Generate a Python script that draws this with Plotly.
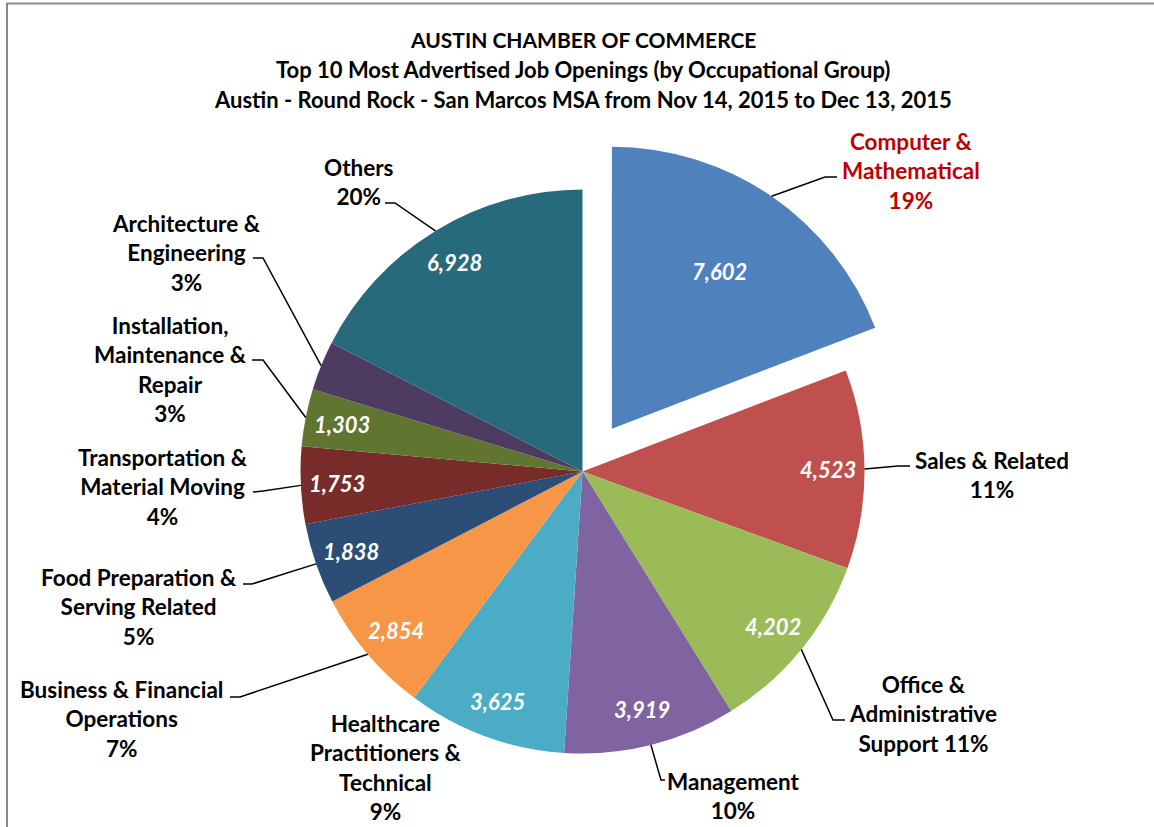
import math
import plotly.graph_objects as go

# ---------------- data ----------------
categories = [
    "Computer & Mathematical", "Sales & Related", "Office & Administrative Support",
    "Management", "Healthcare Practitioners & Technical", "Business & Financial Operations",
    "Food Preparation & Serving Related", "Transportation & Material Moving",
    "Installation, Maintenance & Repair", "Architecture & Engineering", "Others",
]
values = [7602, 4523, 4202, 3919, 3625, 2854, 1838, 1753, 1303, 1120, 6928]
pct_labels = ["19%", "11%", "11%", "10%", "9%", "7%", "5%", "4%", "3%", "3%", "20%"]
show_value = [True, True, True, True, True, True, True, True, True, False, True]
colors = ["#4F81BD", "#C0504D", "#9BBB59", "#8064A2", "#4BACC6", "#F79646",
          "#2C4D75", "#772C2A", "#5F7530", "#4D3B62", "#276A7C"]
title_lines = [
    "AUSTIN CHAMBER OF COMMERCE",
    "Top 10 Most Advertised Job Openings (by Occupational Group)",
    "Austin - Round Rock - San Marcos MSA from Nov 14, 2015 to Dec 13, 2015",
]
# label text with line breaks as displayed
label_texts = [
    "Computer &<br>Mathematical<br>19%",
    "Sales & Related<br>11%",
    "Office &<br>Administrative<br>Support 11%",
    "Management<br>10%",
    "Healthcare<br>Practitioners &<br>Technical<br>9%",
    "Business & Financial<br>Operations<br>7%",
    "Food Preparation &<br>Serving Related<br>5%",
    "Transportation &<br>Material Moving<br>4%",
    "Installation,<br>Maintenance &<br>Repair<br>3%",
    "Architecture &<br>Engineering<br>3%",
    "Others<br>20%",
]

# ---------------- layout geometry (pixels) ----------------
W, H = 1154, 827
CX, CY = 582.5, 471.5
R = 282.0
PULL = 0.184
pulls = [PULL if i == 0 else 0 for i in range(len(values))]

label_pos = [(911, 171), (992, 475), (923, 714), (733, 796), (386, 767), (121, 719),
             (139, 607), (163, 487), (170, 369), (186, 253), (359, 182)]
# leader: (elbow, end) ; None for no leader
leaders = [((825, 177), (837, 177)), ((898, 466), (910, 466)), ((833, 720), (845, 720)),
           ((661, 780), (665, 780)), None, ((240, 697), (230, 697)),
           ((252, 584), (243, 584)), ((263, 491), (253, 492)), ((263, 360), (252, 360)),
           ((263, 258), (253, 258)), ((395, 203), (385, 203))]
label_colors = ["#C00000"] + ["#000000"] * 10


def px(x):
    return x / W


def py(y):
    return 1 - y / H


total = sum(values)
hy = R * (1 + PULL)
hx = 380
fig = go.Figure(go.Pie(
    labels=categories, values=values, sort=False, direction="clockwise", rotation=0,
    pull=pulls, marker=dict(colors=colors, line=dict(width=0)),
    textinfo="none", hoverinfo="label+value+percent", showlegend=False,
    domain=dict(x=[px(CX - hx), px(CX + hx)], y=[py(CY + hy), py(CY - hy)]),
))

annotations = []
shapes = []
cum = 0
for i, v in enumerate(values):
    mid = math.radians((cum + v / 2) / total * 360)
    cum += v
    ox = R * pulls[i] * math.sin(mid)
    oy = -R * pulls[i] * math.cos(mid)
    ccx, ccy = CX + ox, CY + oy
    frac = 0.675 if pulls[i] > 0 else 0.87
    if show_value[i]:
        vx = ccx + R * frac * math.sin(mid)
        vy = ccy - R * frac * math.cos(mid)
        annotations.append(dict(
            x=px(vx), y=py(vy), xref="paper", yref="paper", showarrow=False,
            text=f"{v:,}", font=dict(family="Lato", size=22, color="white",
                                     weight="bold", style="italic"),
            xanchor="center", yanchor="middle"))
    lx, ly = label_pos[i]
    annotations.append(dict(
        x=px(lx), y=py(ly), xref="paper", yref="paper", showarrow=False,
        text=label_texts[i], align="center",
        font=dict(family="Lato", size=22.5, color=label_colors[i], weight="bold"),
        xanchor="center", yanchor="middle"))
    if leaders[i] is not None:
        ex = ccx + R * math.sin(mid)
        ey = ccy - R * math.cos(mid)
        (bx, by), (tx, ty) = leaders[i]
        path = (f"M {px(ex)} {py(ey)} L {px(bx)} {py(by)} L {px(tx)} {py(ty)}")
        shapes.append(dict(type="path", xref="paper", yref="paper", path=path,
                           line=dict(color="black", width=1.5)))

for k, (t, y, s) in enumerate(zip(title_lines, [40, 70, 99], [21, 22, 22])):
    annotations.append(dict(
        x=px(583), y=py(y), xref="paper", yref="paper", showarrow=False, text=t,
        font=dict(family="Lato", size=s, color="black", weight="bold"),
        xanchor="center", yanchor="middle"))

# chart-area border (top and left edges visible)
shapes.append(dict(type="path", xref="paper", yref="paper",
                   path=f"M {px(7)} 0 L {px(7)} {py(3.5)} L 1 {py(3.5)}",
                   line=dict(color="#898989", width=2)))

fig.update_layout(
    width=W, height=H, margin=dict(l=0, r=0, t=0, b=0),
    paper_bgcolor="white", plot_bgcolor="white",
    annotations=annotations, shapes=shapes,
)
fig.write_html("out.html", config={"displayModeBar": False},
               post_script="document.body.style.margin='0';")
